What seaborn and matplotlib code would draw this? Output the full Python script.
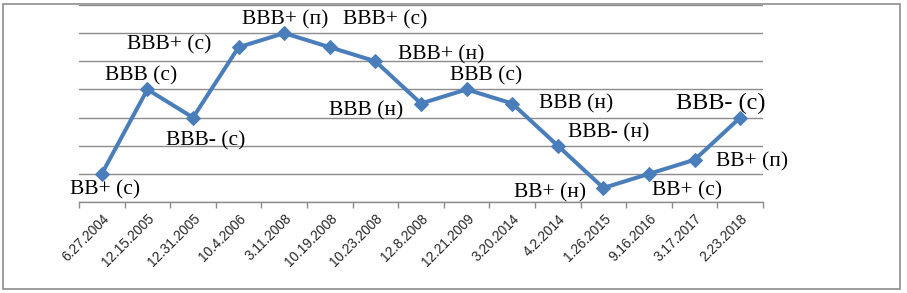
import numpy as np
import pandas as pd
import matplotlib
matplotlib.use("Agg")
import matplotlib.pyplot as plt
from matplotlib.patches import Rectangle
import seaborn as sns

# rating dates and levels (level scale: gridline every 2 units)
dates = ['6.27.2004', '12.15.2005', '12.31.2005', '10.4.2006', '3.11.2008',
         '10.19.2008', '10.23.2008', '12.8.2008', '12.21.2009', '3.20.2014',
         '4.2.2014', '1.26.2015', '9.16.2016', '3.17.2017', '2.23.2018']
levels = [2, 8, 6, 11, 12, 11, 10, 7, 8, 7, 4, 1, 2, 3, 6]
ratings = ['BB+ (с)', 'BBB (с)', 'BBB- (с)', 'BBB+ (с)', 'BBB+ (п)',
           'BBB+ (с)', 'BBB+ (н)', 'BBB (н)', 'BBB (с)', 'BBB (н)',
           'BBB- (н)', 'BB+ (н)', 'BB+ (с)', 'BB+ (п)', 'BBB- (с)']

# label offsets from the point, in pixels
offsets = [(3, -16), (-6, 14), (13, -23), (-69, 2), (1, 13),
           (55, 27), (66, 6), (-55, -7), (20, 14), (64, 0),
           (51, 13), (-53, -5), (38, -17), (57, -2), (-19, 14)]

df = pd.DataFrame({'date': dates, 'level': levels})

sns.set_style("white")
fig = plt.figure(figsize=(9.07, 2.93), dpi=100)
ax = fig.add_axes([79 / 907, 1 - 202 / 293, (763 - 79) / 907, (202 - 5) / 293])

sns.lineplot(data=df, x='date', y='level', sort=False, ax=ax, color='#4a7ebb',
             linewidth=2.9, marker='D', markersize=7, markeredgecolor='#4a7ebb')

for i, (lab, v, off) in enumerate(zip(ratings, levels, offsets)):
    size = 17.5 if i == len(ratings) - 1 else 15.5
    ax.annotate(lab, (i, v), xytext=off, textcoords='offset pixels',
                ha='center', va='center', fontsize=size,
                fontfamily='Liberation Serif', color='black')

ax.set_xlim(-0.5, len(dates) - 0.5)
ax.set_ylim(0, 14)
ax.set_yticks(np.arange(0, 15, 2))
ax.set_yticklabels([])
ax.tick_params(axis='y', length=0)
ax.yaxis.grid(True, color='#8c8c8c', linewidth=1)
ax.xaxis.grid(False)
ax.set_xlabel('')
ax.set_ylabel('')

ax.set_xticks(np.arange(len(dates)))
ax.set_xticklabels(dates, rotation=45, ha='right', rotation_mode='anchor',
                   fontsize=9.8, fontfamily='Liberation Sans')
ax.set_xticks(np.arange(-0.5, len(dates)), minor=True)
ax.tick_params(axis='x', which='major', length=0, pad=7)
ax.tick_params(axis='x', which='minor', length=4, color='#8c8c8c', width=1,
               direction='out', bottom=True)

for side in ['left', 'right', 'top']:
    ax.spines[side].set_visible(False)
ax.spines['bottom'].set_color('#8c8c8c')
ax.spines['bottom'].set_linewidth(1)

fig.patches.append(Rectangle((3 / 907, 4 / 293), 897 / 907, 285 / 293,
                             transform=fig.transFigure, fill=False,
                             edgecolor='#8c8c8c', linewidth=1.2))

fig.savefig('out.png', dpi=100)
